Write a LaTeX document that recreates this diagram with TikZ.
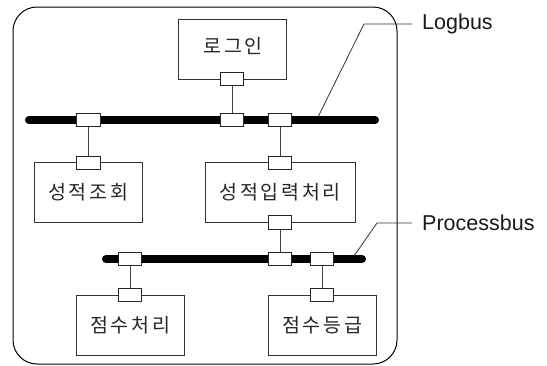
\documentclass[tikz,border=0pt]{standalone}
\usepackage{fontspec}
\setmainfont{Liberation Sans}
\newfontfamily\krfont[LetterSpace=14]{Noto Sans CJK KR}
\begin{document}
\begin{tikzpicture}[x=1pt,y=-1pt,
  comp/.style={draw=black!80,line width=0.9pt,fill=white,minimum height=60pt,inner sep=0pt,font=\krfont\fontsize{19.5}{20}\selectfont,text=black!85},
  port/.style={draw=black!85,line width=0.9pt,fill=white,minimum width=23.5pt,minimum height=13.5pt,inner sep=0pt},
  bus/.style={line width=8pt,line cap=round,black},
  wire/.style={draw=black!75,line width=0.9pt},
  leader/.style={draw=black!80,line width=0.8pt},
  lbl/.style={anchor=west,inner sep=0pt,font=\fontsize{21.5}{23}\selectfont,text=black!90}]
\useasboundingbox (0,0) rectangle (547,365);
% outer frame
\draw[line width=1pt,rounded corners=24pt] (13,7) rectangle (397,364);
% components
\node[comp,minimum width=108pt] (login) at (232,49) {};
\node[font=\krfont\fontsize{19.5}{20}\selectfont,text=black!85] (loginT) at (233,46) {로그인};
\node[comp,minimum width=108pt] (jo) at (88,192) {성적조회};
\node[comp,minimum width=150pt] (ip) at (280,192) {성적입력처리};
\node[comp,minimum width=108pt] (js) at (130,325) {점수처리};
\node[comp,minimum width=108pt] (jd) at (322,325) {점수등급};
% buses
\coordinate (lb1) at (29,120);
\coordinate (lb2) at (375,120);
\coordinate (pb1) at (106,259);
\coordinate (pb2) at (362,259);
\draw[bus] (lb1) -- (lb2);
\draw[bus] (pb1) -- (pb2);
% ports
\node[port] (pl) at (232,79) {};
\node[port] (b1a) at (88.6,120) {};
\node[port] (b1b) at (232,120) {};
\node[port] (b1c) at (280,120) {};
\node[port] (pjo) at (88.6,163) {};
\node[port] (pip) at (280,163) {};
\node[port] (pip2) at (280,222.5) {};
\node[port] (b2a) at (130,259) {};
\node[port] (b2b) at (280,259) {};
\node[port] (b2c) at (322,259) {};
\node[port] (pjs) at (130,295) {};
\node[port] (pjd) at (322,295) {};
% wires
\draw[wire] (pl.south) -- (b1b.north);
\draw[wire] (b1a.south) -- (pjo.north);
\draw[wire] (b1c.south) -- (pip.north);
\draw[wire] (pip2.south) -- (b2b.north);
\draw[wire] (b2a.south) -- (pjs.north);
\draw[wire] (b2c.south) -- (pjd.north);
% labels
\coordinate (lgA) at (318,117);
\coordinate (lgB) at (364,24);
\coordinate (lgC) at (412,24);
\node[lbl] (logbus) at (422,24) {Logbus};
\draw[leader] (lgA) -- (lgB) -- (lgC);
\coordinate (prA) at (354,256);
\coordinate (prB) at (377,223);
\coordinate (prC) at (412,223);
\node[lbl] (procbus) at (422,223) {Processbus};
\draw[leader] (prA) -- (prB) -- (prC);
\end{tikzpicture}
\end{document}
